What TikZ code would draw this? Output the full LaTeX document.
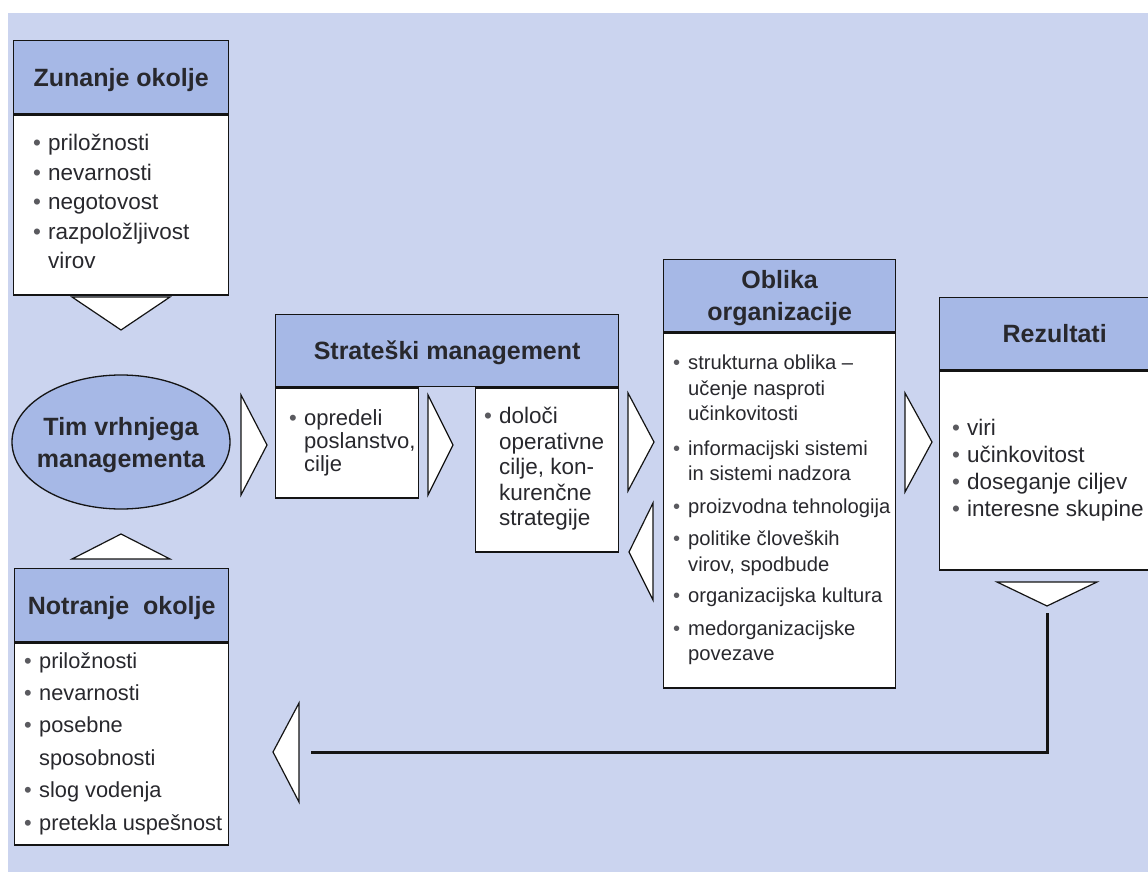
\documentclass[tikz,border=0pt]{standalone}
\usepackage{fontspec}
\setmainfont{Liberation Sans}
\usetikzlibrary{shapes.geometric}

\newcommand\bul{\makebox[15pt][l]{\textcolor{BULLET}{\textbullet}}}
\newcommand\ind{\hspace*{15pt}}

\begin{document}
\begin{tikzpicture}[x=1pt,y=-1pt,
	hdr/.style={draw=BLACK, line width=1.3, fill=HEAD, text=TEXT, align=center, text depth=0pt,
		font=\fontsize{25}{32}\selectfont\bfseries, inner sep=0, anchor=north west},
	body/.style={draw=BLACK, line width=1.3, fill=WHITE, inner sep=0, anchor=north west},
	items/.style 2 args={text=TEXT, font=\fontsize{#1}{#2}\selectfont, align=left,
		inner sep=0, anchor=north west},
	tri/.style={draw=BLACK, line width=1.2, fill=WHITE, line join=miter},
	fb/.style={draw=BLACK, line width=3}]
	\definecolor{BLACK}{RGB}{20,20,20}
	\definecolor{WHITE}{RGB}{255,255,255}
	\definecolor{BACK}{RGB}{203,212,239}
	\definecolor{HEAD}{RGB}{166,184,230}
	\definecolor{TEXT}{RGB}{40,40,45}
	\definecolor{BULLET}{RGB}{90,90,95}
	\path[use as bounding box, clip] (0,0) rectangle (1148,872);
	\fill[BACK] (8,13) rectangle (1148,872);

	% zunanje okolje
	\node[hdr, minimum width=215, minimum height=73] (zunanje) at (13,40) {Zunanje okolje};
	\node[body, minimum width=215, minimum height=180] (zunanjebody) at (zunanje.south west) {};
	\node[items={22.5}{29.5}] (zunanjetext) at (33,134)
	{\bul priložnosti\\\bul nevarnosti\\\bul negotovost\\\bul razpoložljivost\\\ind virov};
	\draw[tri] (72,297) -- (170,297) -- (121,330) -- cycle;

	% tim vrhnjega managementa
	\node[ellipse, draw=BLACK, line width=1.3, fill=HEAD, inner sep=0,
		minimum width=218, minimum height=134] (tim) at (121,442) {};
	\node[text=TEXT, align=center, text depth=0pt, inner sep=0,
		font=\fontsize{25}{32}\selectfont\bfseries] (timtext) at (tim.center) {Tim vrhnjega\\managementa};
	\draw[tri] (72,559) -- (121,534) -- (170,559) -- cycle;
	\draw[tri] (241,395) -- (267,445) -- (241,495) -- cycle;

	% notranje okolje
	\node[hdr, minimum width=214, minimum height=73] (notranje) at (14,568) {Notranje\ \ okolje};
	\node[body, minimum width=214, minimum height=202] (notranjebody) at (notranje.south west) {};
	\node[items={21.8}{32.4}] (notranjetext) at (24,652)
	{\bul priložnosti\\\bul nevarnosti\\\bul posebne\\\ind sposobnosti\\\bul slog vodenja\\\bul pretekla uspešnost};

	% strateski management
	\node[hdr, minimum width=343, minimum height=72] (strat) at (275,314) {Strateški management};
	\node[body, minimum width=143, minimum height=110] (opredeli) at (strat.south west) {};
	\node[body, anchor=north east, minimum width=143, minimum height=164] (doloci) at (strat.south east) {};
	\node[items={22}{23}] (opredelitext) at (289,409) {\bul opredeli\\\ind poslanstvo,\\\ind cilje};
	\node[items={22.5}{25.5}] (dolocitext) at (484,407)
	{\bul določi\\\ind operativne\\\ind cilje, kon-\\\ind kurenčne\\\ind strategije};
	\draw[tri] (428,395) -- (453,445) -- (428,495) -- cycle;
	\draw[tri] (628,393) -- (654,442) -- (628,491) -- cycle;
	\draw[tri] (653,503) -- (629,552) -- (653,600) -- cycle;

	% oblika organizacije
	\node[hdr, minimum width=232, minimum height=72] (oblika) at (663,259) {Oblika\\organizacije};
	\node[body, minimum width=232, minimum height=355] (oblikabody) at (oblika.south west) {};
	\node[items={20.2}{25.5}] (oblikatext) at (673,355)
	{\bul strukturna oblika –\\\ind učenje nasproti\\\ind učinkovitosti\\[9pt]
	 \bul informacijski sistemi\\\ind in sistemi nadzora\\[7pt]
	 \bul proizvodna tehnologija\\[7pt]
	 \bul politike človeških\\\ind virov, spodbude\\[6pt]
	 \bul organizacijska kultura\\[7pt]
	 \bul medorganizacijske\\\ind povezave};
	\draw[tri] (905,393) -- (932,442) -- (905,492) -- cycle;

	% rezultati
	\node[hdr, minimum width=230, minimum height=72] (rezultati) at (939,297) {Rezultati};
	\node[body, minimum width=230, minimum height=199] (rezultatibody) at (rezultati.south west) {};
	\node[items={22.5}{27}] (rezultatitext) at (952,419)
	{\bul viri\\\bul učinkovitost\\\bul doseganje ciljev\\\bul interesne skupine};
	\draw[tri] (997,582) -- (1097,582) -- (1047,606) -- cycle;

	% povratna zanka
	\coordinate (resapex) at (1047,606);
	\coordinate (backbase) at (299,752);
	\draw[tri] (299,703) -- (273,752) -- (299,802) -- cycle;
	\draw[fb] ([yshift=-7]resapex) |- ([xshift=12]backbase);
\end{tikzpicture}
\end{document}
